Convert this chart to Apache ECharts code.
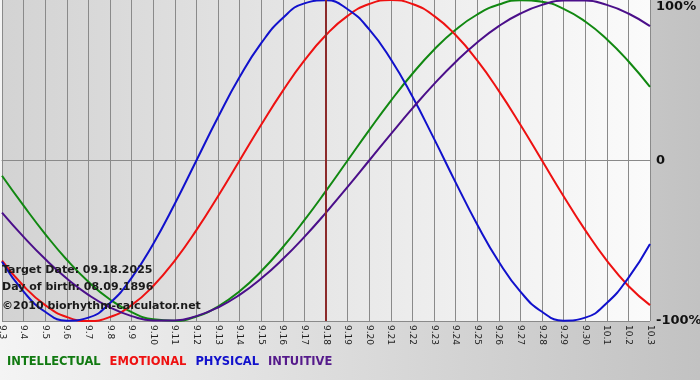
<!DOCTYPE html>
<html><head><meta charset="utf-8">
<script src="https://cdn.jsdelivr.net/npm/echarts@6/dist/echarts.min.js"></script>
<style>html,body{margin:0;padding:0;}#c{width:700px;height:380px;}</style>
</head><body><div id="c"></div>
<script>
var categories = ['9.3','9.4','9.5','9.6','9.7','9.8','9.9','9.10','9.11','9.12','9.13','9.14','9.15','9.16','9.17','9.18','9.19','9.20','9.21','9.22','9.23','9.24','9.25','9.26','9.27','9.28','9.29','9.30','10.1','10.2','10.3'];
var intellectual = [-0.0951,-0.2817,-0.4582,-0.6182,-0.7557,-0.8660,-0.9450,-0.9898,-0.9989,-0.9718,-0.9096,-0.8146,-0.6901,-0.5406,-0.3717,-0.1893,0,0.1893,0.3717,0.5406,0.6901,0.8146,0.9096,0.9718,0.9989,0.9898,0.9450,0.8660,0.7557,0.6182,0.4582];
var emotional = [-0.6235,-0.7818,-0.9010,-0.9749,-1,-0.9749,-0.9010,-0.7818,-0.6235,-0.4339,-0.2225,0,0.2225,0.4339,0.6235,0.7818,0.9010,0.9749,1,0.9749,0.9010,0.7818,0.6235,0.4339,0.2225,0,-0.2225,-0.4339,-0.6235,-0.7818,-0.9010];
var physical = [-0.6311,-0.8170,-0.9423,-0.9977,-0.9791,-0.8879,-0.7308,-0.5196,-0.2698,0,0.2698,0.5196,0.7308,0.8879,0.9791,0.9977,0.9423,0.8170,0.6311,0.3984,0.1362,-0.1362,-0.3984,-0.6311,-0.8170,-0.9423,-0.9977,-0.9791,-0.8879,-0.7308,-0.5196];
var intuitive = [-0.3247,-0.4759,-0.6142,-0.7357,-0.8372,-0.9158,-0.9694,-0.9966,-0.9966,-0.9694,-0.9158,-0.8372,-0.7357,-0.6142,-0.4759,-0.3247,-0.1646,0,0.1646,0.3247,0.4759,0.6142,0.7357,0.8372,0.9158,0.9694,0.9966,0.9966,0.9694,0.9158,0.8372];
var targetDay = '9.18';
var yTicks = {'1':'100%','0':'0','-1':'-100%'};
var infoLines = ['Target Date: 09.18.2025','Day of birth: 08.09.1896','\u00a92010 biorhythm-calculator.net'];

var chart = echarts.init(document.getElementById('c'), null, {renderer:'canvas'});
var FONT = '"DejaVu Sans", Verdana, sans-serif';
function ser(name, data, color, extra) {
  var s = {name:name, type:'line', data:data, smooth:0.5, symbol:'none', silent:true,
    lineStyle:{color:color, width:2}, itemStyle:{color:color}, z:3};
  if (extra) for (var k in extra) s[k] = extra[k];
  return s;
}
chart.setOption({
  animation:false,
  backgroundColor:{type:'linear',x:0,y:0,x2:1,y2:0,colorStops:[{offset:0,color:'#f4f4f4'},{offset:1,color:'#c2c2c2'}]},
  grid:{left:2,right:50,top:0,bottom:59,show:true,borderWidth:0,containLabel:false,outerBoundsMode:'none',
    backgroundColor:{type:'linear',x:0,y:0,x2:1,y2:0,colorStops:[{offset:0,color:'#d3d3d3'},{offset:1,color:'#fbfbfb'}]}},
  legend:{bottom:7,left:-3,icon:'none',itemWidth:0,itemGap:4,selectedMode:false,
    textStyle:{fontFamily:FONT,fontWeight:'bold',fontSize:11.5},
    data:[{name:'INTELLECTUAL',textStyle:{color:'#117a11'}},{name:'EMOTIONAL',textStyle:{color:'#ee1111'}},
          {name:'PHYSICAL',textStyle:{color:'#1111cc'}},{name:'INTUITIVE',textStyle:{color:'#551a8b'}}]},
  xAxis:{type:'category',data:categories,boundaryGap:false,
    axisLine:{show:true,lineStyle:{color:'#8a8a8a',width:1}},
    axisTick:{show:true,length:3,interval:0,lineStyle:{color:'#8a8a8a'}},
    splitLine:{show:true,interval:0,lineStyle:{color:'#8a8a8a',width:1}},
    axisLabel:{interval:0,rotate:-90,fontSize:9,color:'#222',margin:4,fontFamily:FONT}},
  yAxis:{type:'value',min:-1,max:1,interval:1,position:'right',
    axisLine:{show:false},axisTick:{show:false},
    splitLine:{show:true,lineStyle:{color:['#8a8a8a','#8a8a8a','rgba(0,0,0,0)'],width:1}},
    axisLabel:{margin:6,color:'#111',fontWeight:'bold',fontSize:13,fontFamily:FONT,
      formatter:function(v){ return v===1 ? '{t|'+yTicks['1']+'}' : yTicks[String(v)]; },
      rich:{t:{padding:[14,0,0,0],fontWeight:'bold',fontSize:13,color:'#111',fontFamily:FONT}}}},
  graphic:[
    {type:'text',left:2,top:265,z:10,style:{text:infoLines[0],font:'bold 11px '+FONT,fill:'#1a1a1a'}},
    {type:'text',left:2,top:282,z:10,style:{text:infoLines[1],font:'bold 11px '+FONT,fill:'#1a1a1a'}},
    {type:'text',left:2,top:301,z:10,style:{text:infoLines[2],font:'bold 11px '+FONT,fill:'#1a1a1a'}}
  ],
  series:[
    ser('INTELLECTUAL', intellectual, '#118811'),
    ser('EMOTIONAL', emotional, '#ee1111'),
    ser('PHYSICAL', physical, '#1111cc', {markLine:{silent:true,symbol:['none','none'],label:{show:false},
        lineStyle:{color:'#8b2a2a',width:2,type:'solid'},data:[{xAxis:targetDay}]}}),
    ser('INTUITIVE', intuitive, '#4b0f8a')
  ]
});
</script></body></html>
